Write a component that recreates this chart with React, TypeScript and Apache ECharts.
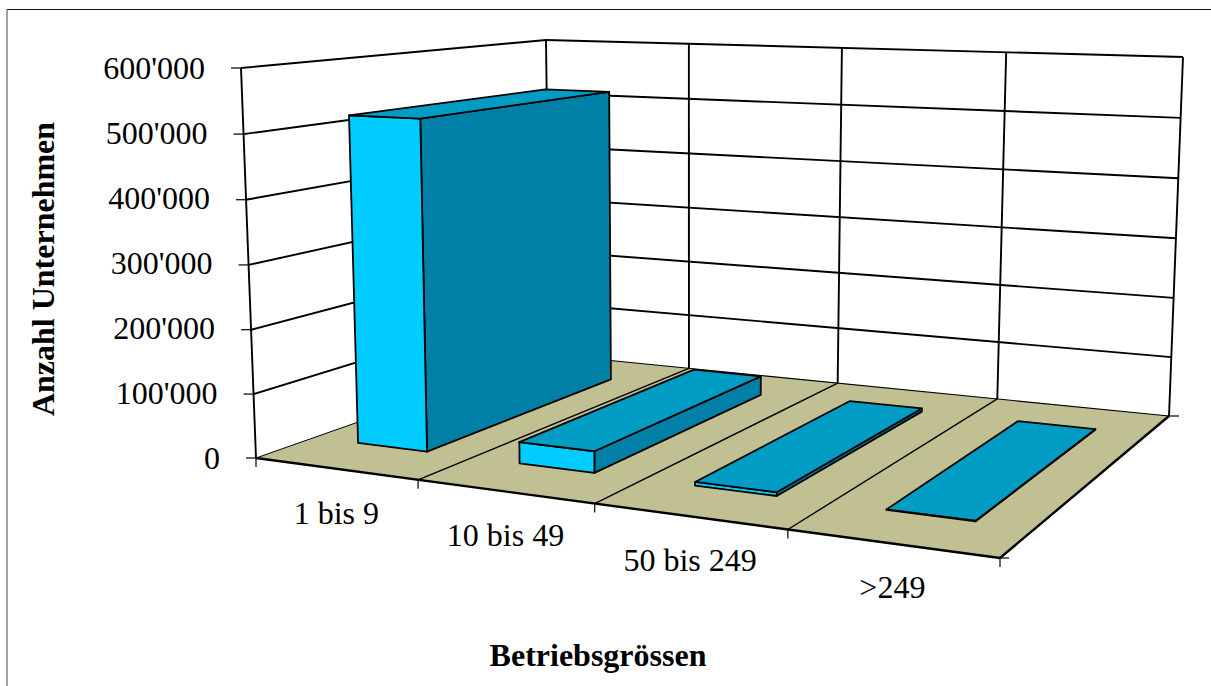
import React, { useEffect, useRef } from "react";
import * as echarts from "echarts";

const categories = ["1 bis 9", "10 bis 49", "50 bis 249", ">249"];
const values = [520000, 33000, 5500, 800];
const yTicks = [0, 100000, 200000, 300000, 400000, 500000, 600000];
const yTickLabels = ["0", "100'000", "200'000", "300'000", "400'000", "500'000", "600'000"];
const yTitle = "Anzahl Unternehmen";
const xTitle = "Betriebsgrössen";

type P = [number, number];
const FONT = '"Liberation Serif", "Times New Roman", serif';

function homography(p00: P, p10: P, p11: P, p01: P) {
  const dx1 = p10[0] - p11[0], dx2 = p01[0] - p11[0], sx = p00[0] - p10[0] + p11[0] - p01[0];
  const dy1 = p10[1] - p11[1], dy2 = p01[1] - p11[1], sy = p00[1] - p10[1] + p11[1] - p01[1];
  const den = dx1 * dy2 - dx2 * dy1;
  const g = (sx * dy2 - dx2 * sy) / den;
  const h = (dx1 * sy - sx * dy1) / den;
  const a = p10[0] - p00[0] + g * p10[0], b = p01[0] - p00[0] + h * p01[0];
  const d = p10[1] - p00[1] + g * p10[1], e = p01[1] - p00[1] + h * p01[1];
  return (u: number, v: number): P => {
    const w = g * u + h * v + 1;
    return [(a * u + b * v + p00[0]) / w, (d * u + e * v + p00[1]) / w];
  };
}

const floorAt = homography([256, 458], [1000, 558], [1169, 416], [550, 354.5]);
const roofAt = homography([241, 68], [1018, 96], [1183, 57], [546, 40]);

function project(u: number, v: number, t: number): P {
  const f = floorAt(u, v), r = roofAt(u, v);
  const s = t / (t + (1 - t) * 1.02);
  return [f[0] + (r[0] - f[0]) * s, f[1] + (r[1] - f[1]) * s];
}

const GRID_TOP = 68;
const GRID_H = 390;
const INK = "#000";

function line(a: P, b: P, lineWidth = 1.9) {
  return {
    type: "line",
    silent: true,
    shape: { x1: a[0], y1: a[1], x2: b[0], y2: b[1] },
    style: { stroke: INK, lineWidth, fill: "none" },
  };
}
function poly(points: P[], fill: string, lineWidth = 1.8) {
  return {
    type: "polygon",
    silent: true,
    shape: { points },
    style: { fill, stroke: INK, lineWidth, lineJoin: "round" },
  };
}

function heightFraction(api: any, value: number) {
  const y0 = api.coord([0, 0])[1];
  return (y0 - api.coord([0, value])[1]) / GRID_H;
}

function renderFrame(_p: any, api: any) {
  const children: any[] = [];
  const n = categories.length;
  // floor
  children.push({
    type: "polygon",
    silent: true,
    shape: { points: [project(0, 0, 0), project(1, 0, 0), project(1, 1, 0), project(0, 1, 0)] },
    style: { fill: "#C0C093" },
  });
  // grid on the walls
  yTicks.forEach((tick) => {
    const t = heightFraction(api, tick);
    const a = project(0, 0, t), b = project(0, 1, t), c = project(1, 1, t);
    if (tick > 0) {
      children.push(line(a, b), line(b, c));
    } else {
      children.push(line(b, c, 1.2));
    }
    children.push(line([a[0] - 10, a[1]], a, 1.2));
  });
  // verticals
  for (let i = 0; i <= n; i++) {
    const u = i / n;
    children.push(line(project(u, 1, 0), project(u, 1, 1)));
  }
  children.push(line(project(0, 0, 0), project(0, 0, 1)));
  // floor slot lines and outer edges
  for (let i = 1; i < n; i++) {
    const u = i / n;
    children.push(line(project(u, 0, 0), project(u, 1, 0), 1.4));
  }
  children.push(line(project(0, 0, 0), project(1, 0, 0), 2.4));
  children.push(line(project(1, 0, 0), project(1, 1, 0), 2.4));
  children.push(line(project(0, 0, 0), project(0, 1, 0), 1));
  // axis ticks
  for (let i = 0; i <= n; i++) {
    const p = project(i / n, 0, 0);
    children.push(line(p, [p[0], p[1] + 9], 1.2));
  }
  const fr = project(1, 0, 0), br = project(1, 1, 0);
  children.push(line(fr, [fr[0] + 9, fr[1]], 1.2));
  children.push(line(br, [br[0] + 10, br[1]], 1.2));
  return { type: "group", children };
}

function renderBar(_p: any, api: any) {
  const i = api.value(0) as number;
  const val = api.value(1) as number;
  const n = categories.length;
  const t = heightFraction(api, val);
  const u0 = (i + 0.283) / n, u1 = (i + 0.72) / n;
  const v0 = 1 / 6, v1 = 5 / 6;
  const fl0 = project(u0, v0, 0), fr0 = project(u1, v0, 0), br0 = project(u1, v1, 0);
  const fl1 = project(u0, v0, t), fr1 = project(u1, v0, t), br1 = project(u1, v1, t), bl1 = project(u0, v1, t);
  const lab = project((i + 0.5) / n, 0, 0);
  return {
    type: "group",
    children: [
      poly([fr0, br0, br1, fr1], "#0080A6"),
      poly([fl0, fr0, fr1, fl1], "#00CCFF"),
      poly([fl1, fr1, br1, bl1], "#009CC3"),
      {
        type: "text",
        silent: true,
        style: {
          text: categories[i],
          x: lab[0] + 1,
          y: lab[1] + 44,
          fill: INK,
          font: `32px ${FONT}`,
          textAlign: "center",
          textVerticalAlign: "middle",
        },
      },
    ],
  };
}

export default function App() {
  const ref = useRef<HTMLDivElement>(null);
  useEffect(() => {
    document.body.style.margin = "0";
    const chart = echarts.init(ref.current!, null, { renderer: "svg" });
    const rich: any = {};
    yTicks.forEach((_, k) => {
      rich["r" + k] = {
        fontFamily: FONT,
        fontSize: 32,
        color: INK,
        padding: [0, (k * 15) / 6, 0, 0],
      };
    });
    chart.setOption({
      animation: false,
      backgroundColor: "#fff",
      grid: { left: 241, top: GRID_TOP, height: GRID_H, width: 714, outerBoundsMode: "none" },
      xAxis: {
        type: "category",
        data: categories,
        axisLine: { show: false },
        axisTick: { show: false },
        axisLabel: { show: false },
        splitLine: { show: false },
        name: xTitle,
        nameLocation: "middle",
        nameGap: 181,
        nameTextStyle: { fontFamily: FONT, fontSize: 32, fontWeight: "bold", color: INK },
      },
      yAxis: {
        type: "value",
        min: 0,
        max: 600000,
        interval: 100000,
        axisLine: { show: false },
        axisTick: { show: false },
        splitLine: { show: false },
        axisLabel: {
          margin: 21,
          formatter: (v: number) => {
            const k = yTicks.indexOf(v);
            return `{r${k}|${yTickLabels[k]}}`;
          },
          rich,
        },
        name: yTitle,
        nameLocation: "middle",
        nameGap: 182,
        nameRotate: 90,
        nameTextStyle: {
          fontFamily: FONT,
          fontSize: 32,
          fontWeight: "bold",
          color: INK,
          padding: [0, 12, 0, 0],
        },
      },
      graphic: [
        { type: "line", silent: true, shape: { x1: 7, y1: 9.5, x2: 1211, y2: 9.5 }, style: { stroke: "#111", lineWidth: 1 } },
        { type: "line", silent: true, shape: { x1: 7, y1: 9.5, x2: 7, y2: 686 }, style: { stroke: "#444", lineWidth: 1 } },
      ],
      series: [
        {
          type: "custom",
          coordinateSystem: "cartesian2d",
          renderItem: renderFrame,
          data: [[0, 0]],
          encode: { x: 0, y: 1 },
          silent: true,
          z: 1,
        },
        {
          type: "custom",
          coordinateSystem: "cartesian2d",
          renderItem: renderBar,
          data: values.map((v, i) => [i, v]),
          encode: { x: 0, y: 1 },
          silent: true,
          z: 2,
        },
      ],
    });
    return () => chart.dispose();
  }, []);
  return <div ref={ref} style={{ width: 1211, height: 686 }} />;
}
